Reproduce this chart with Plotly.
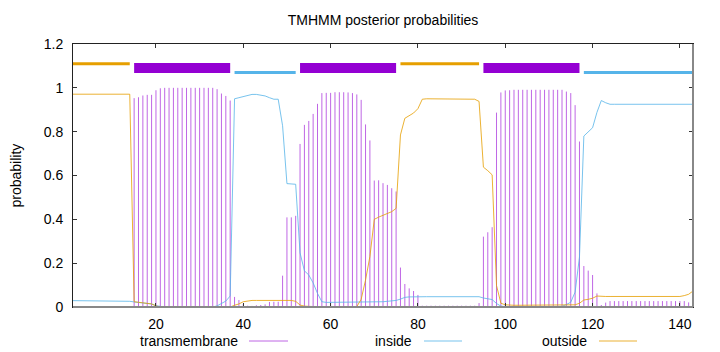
import plotly.graph_objects as go

# ---------------- data ----------------
positions = list(range(1, 144))

transmembrane = (
    [0.0] * 12 + [0.003, 0.004]
    + [0.953, 0.957, 0.965, 0.968, 0.968, 0.989, 0.998]
    + [1.0] * 12
    + [0.994, 0.974, 0.963, 0.942]
    + [0.046, 0.032, 0.014, 0.006, 0.005, 0.008, 0.009, 0.012, 0.023, 0.024, 0.024, 0.143]
    + [0.409, 0.409, 0.416, 0.744, 0.831, 0.849, 0.881, 0.927, 0.976, 0.977, 0.977,
       0.980, 0.980, 0.980, 0.979, 0.976, 0.970, 0.945, 0.833, 0.760, 0.577, 0.578,
       0.565, 0.557, 0.542, 0.527]
    + [0.180, 0.105, 0.085, 0.073, 0.055]
    + [0.006] * 13 + [0.018]
    + [0.321, 0.341, 0.364, 0.887, 0.979, 0.988, 0.989]
    + [0.991] * 12
    + [0.983, 0.976, 0.921, 0.755]
    + [0.187, 0.166, 0.146, 0.062, 0.009, 0.020]
    + [0.027] * 18 + [0.021, 0.017]
)

inside = (
    [0.029] * 13 + [0.026, 0.023, 0.021, 0.018, 0.016, 0.014, 0.006, 0.002]
    + [0.0] * 12
    + [0.005, 0.015, 0.027, 0.050]
    + [0.950, 0.955, 0.960, 0.966, 0.970, 0.970, 0.967, 0.963, 0.955, 0.948, 0.948,
       0.827, 0.563, 0.563, 0.560, 0.247, 0.165, 0.146, 0.110, 0.062, 0.024]
    + [0.021] * 11
    + [0.022, 0.023, 0.024, 0.026, 0.028, 0.030, 0.036, 0.044, 0.046]
    + [0.047] * 12
    + [0.049, 0.050, 0.050, 0.047, 0.041, 0.037, 0.034, 0.016, 0.004, 0.002]
    + [0.001] * 12
    + [0.003, 0.011, 0.022, 0.068, 0.228, 0.780, 0.800, 0.818, 0.888, 0.942, 0.932]
    + [0.925] * 20
)

outside = (
    [0.971] * 14
    + [0.024, 0.022, 0.019, 0.016, 0.014, 0.005]
    + [0.0] * 17
    + [0.008, 0.014, 0.024, 0.028]
    + [0.030] * 10 + [0.026, 0.009, 0.004]
    + [0.002] * 12
    + [0.035, 0.123, 0.230, 0.400, 0.410, 0.418, 0.428, 0.435, 0.450,
       0.785, 0.861, 0.874, 0.885, 0.905, 0.948]
    + [0.950] * 11
    + [0.948, 0.938, 0.638, 0.622, 0.603, 0.098, 0.017, 0.010]
    + [0.008] * 15
    + [0.010, 0.017, 0.032, 0.035, 0.040, 0.050]
    + [0.048] * 19 + [0.052, 0.058, 0.073]
)

seg_start = [1, 15, 38, 53, 76, 95, 118]
seg_end = [14, 37, 52, 75, 94, 117, 143]
seg_type = ["outside", "TMhelix", "inside", "TMhelix", "outside", "TMhelix", "inside"]
seg_level = {"outside": 1.11, "TMhelix": 1.09, "inside": 1.07}

x_ticks = [20, 40, 60, 80, 100, 120, 140]
y_ticks = [0, 0.2, 0.4, 0.6, 0.8, 1.0, 1.2]
y_ticktext = ["0", "0.2", "0.4", "0.6", "0.8", "1", "1.2"]

title_text = "TMHMM posterior probabilities"
y_label = "probability"
legend_names = ["transmembrane", "inside", "outside"]

# ---------------- style ----------------
C_TM = "#9400D3"
C_IN = "#56B4E9"
C_OUT = "#E69F00"
C_TM_LINE = "rgba(148,0,211,0.6)"
C_IN_LINE = "rgba(86,180,233,0.8)"
C_OUT_LINE = "rgba(230,159,0,0.8)"
FONT = "Liberation Sans, Arial, sans-serif"

fig = go.Figure()

# impulses for transmembrane
ix, iy = [], []
for p, v in zip(positions, transmembrane):
    ix += [p, p, None]
    iy += [0, v, None]
fig.add_trace(go.Scatter(x=ix, y=iy, mode="lines",
                         line=dict(color=C_TM_LINE, width=1),
                         hoverinfo="skip", showlegend=False))

fig.add_trace(go.Scatter(x=positions, y=inside, mode="lines",
                         line=dict(color=C_IN_LINE, width=1), showlegend=False))
fig.add_trace(go.Scatter(x=positions, y=outside, mode="lines",
                         line=dict(color=C_OUT_LINE, width=1), showlegend=False))

# topology bars at the top
for s, e, t in zip(seg_start, seg_end, seg_type):
    lvl = seg_level[t]
    if t == "TMhelix":
        col, w = C_TM, 10
    elif t == "inside":
        col, w = C_IN, 3
    else:
        col, w = C_OUT, 3
    fig.add_trace(go.Scatter(x=[s, e], y=[lvl, lvl], mode="lines",
                             line=dict(color=col, width=w),
                             hoverinfo="skip", showlegend=False))

L, R, T, B = 73, 27, 44, 45
W, H = 720, 352
pw = W - L - R
ph = H - T - B

def px_x(px):
    return (px - L) / pw

def px_y(py):
    return (H - B - py) / ph

annotations = [
    dict(text=y_label, x=px_x(15), y=0.5, xref="paper", yref="paper",
         textangle=-90, showarrow=False, xanchor="center", yanchor="middle",
         font=dict(family=FONT, size=14, color="black")),
]
shapes = []
legend_text_right = [240, 414, 589]
legend_line = [(249, 288), (424, 462), (599, 637)]
legend_cols = [C_TM_LINE, C_IN_LINE, C_OUT_LINE]
for name, xr, (a, b), c in zip(legend_names, legend_text_right, legend_line, legend_cols):
    annotations.append(dict(text=name, x=px_x(xr), y=px_y(341), xref="paper", yref="paper",
                            showarrow=False, xanchor="right", yanchor="middle",
                            font=dict(family=FONT, size=14, color="black")))
    shapes.append(dict(type="line", xref="paper", yref="paper",
                       x0=px_x(a), x1=px_x(b), y0=px_y(341), y1=px_y(341),
                       line=dict(color=c, width=1)))

# grey bottom / right borders
shapes.append(dict(type="line", xref="paper", yref="paper", x0=0, x1=1, y0=0, y1=0,
                   line=dict(color="#888888", width=2)))
shapes.append(dict(type="line", xref="paper", yref="paper", x0=1, x1=1, y0=0, y1=1,
                   line=dict(color="#888888", width=2)))

fig.update_layout(
    width=W, height=H,
    margin=dict(l=L, r=R, t=T, b=B),
    paper_bgcolor="white", plot_bgcolor="white",
    font=dict(family=FONT, size=14, color="black"),
    title=dict(text=title_text, x=px_x(383), xref="paper", xanchor="center",
               y=1 - 20 / H, yref="container", yanchor="middle",
               font=dict(family=FONT, size=14, color="black")),
    showlegend=False,
    annotations=annotations,
    shapes=shapes,
)
fig.update_xaxes(range=[1, 143], tickvals=x_ticks, ticks="inside", ticklen=4,
                 tickcolor="#333333", showline=True, linecolor="#222222", linewidth=1,
                 mirror="allticks", showgrid=False, zeroline=False,
                 ticklabelstandoff=4)
fig.update_yaxes(range=[0, 1.2], tickvals=y_ticks, ticktext=y_ticktext, ticks="inside",
                 ticklen=4, tickcolor="#333333", showline=True, linecolor="#222222",
                 linewidth=1, mirror="allticks", showgrid=False, zeroline=False,
                 ticklabelstandoff=6)

fig.write_html("out.html")
